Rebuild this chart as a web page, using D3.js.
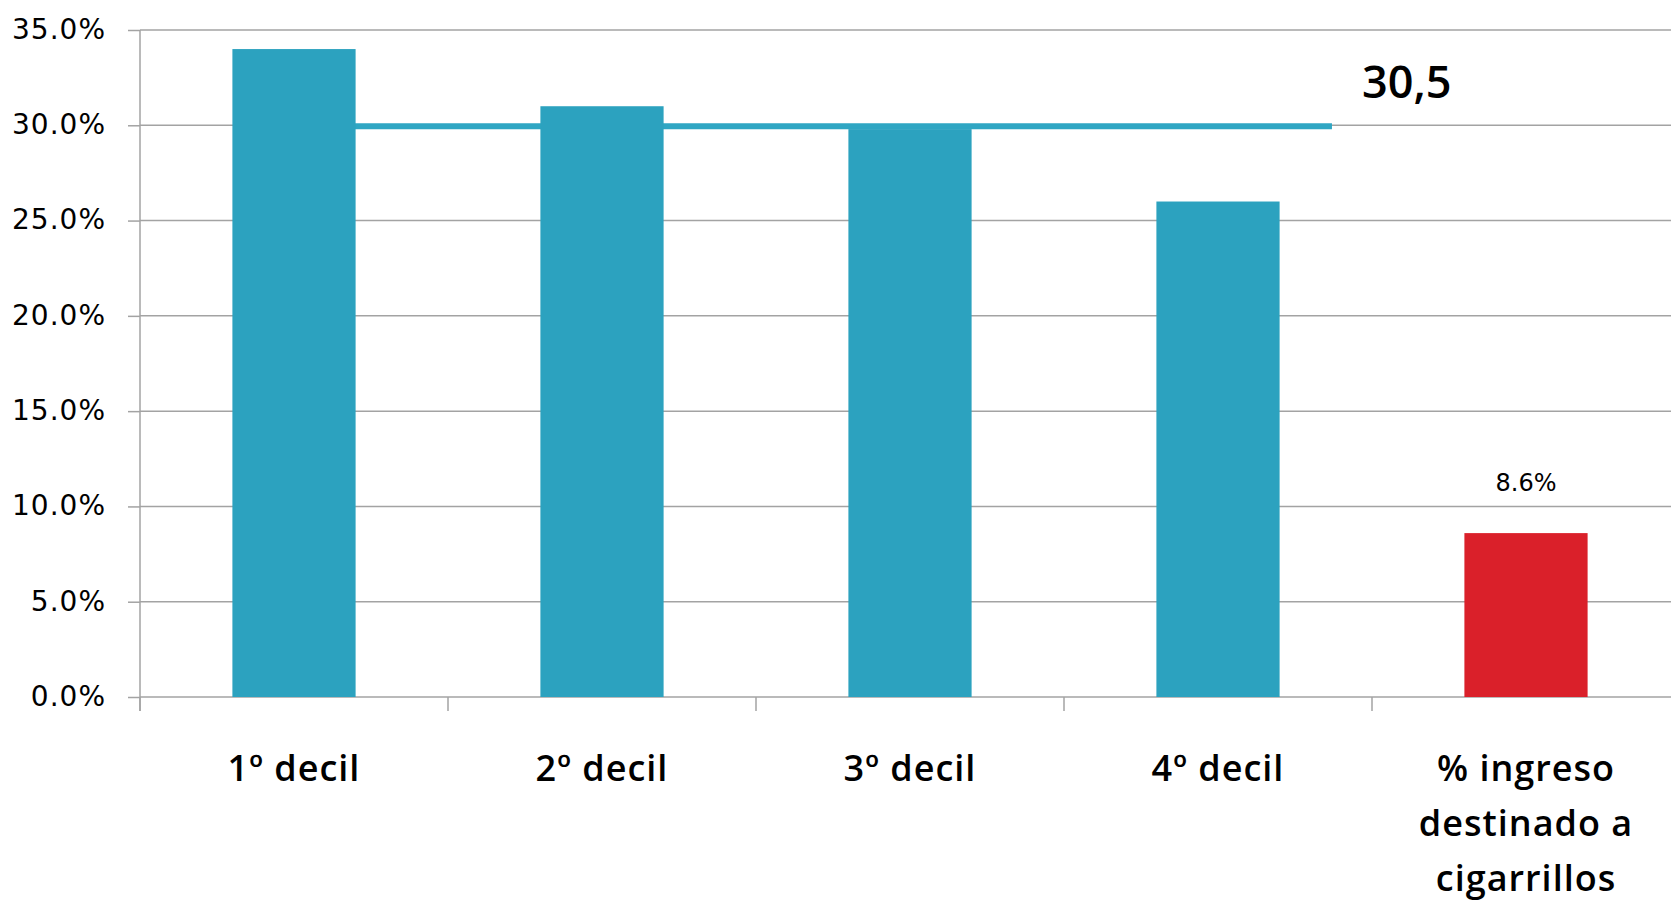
<!DOCTYPE html>
<html>
<head>
<meta charset="utf-8">
<script src="https://cdn.jsdelivr.net/npm/d3@7"></script>
<style>
  html, body { margin: 0; padding: 0; background: #ffffff; }
  svg { display: block; }
</style>
</head>
<body>
<svg id="chart" width="1671" height="904"></svg>
<script>
// ---- Data ----
const categories = ["1º decil", "2º decil", "3º decil", "4º decil", "% ingreso destinado a cigarrillos"];
const categoryLines = [["1º decil"], ["2º decil"], ["3º decil"], ["4º decil"], ["% ingreso", "destinado a", "cigarrillos"]];
const values = [34.0, 31.0, 29.8, 26.0, 8.6];
const barColors = ["#2ca2bf", "#2ca2bf", "#2ca2bf", "#2ca2bf", "#da202a"];
const valueLabels = [null, null, null, null, "8.6%"];
const yTicks = [0, 5, 10, 15, 20, 25, 30, 35];
const yTickLabels = ["0.0%", "5.0%", "10.0%", "15.0%", "20.0%", "25.0%", "30.0%", "35.0%"];
const avgValue = 29.95;
const avgLabel = "30,5";

// ---- Layout ----
const svg = d3.select("#chart");
const mLeft = 140, mTop = 30, mBottom = 697, mRight = 1680;

const x = d3.scaleBand().domain(categories).range([mLeft, mRight]).padding(0);
const y = d3.scaleLinear().domain([0, 35]).range([mBottom, mTop]);
const bw = x.bandwidth();
const barW = bw * 0.4;

const rows = categories.map((c, i) => ({ cat: c, value: values[i], color: barColors[i], label: valueLabels[i], lines: categoryLines[i] }));

// gridlines + y ticks
const yAxis = d3.axisLeft(y).tickValues(yTicks).tickFormat((d, i) => yTickLabels[i]).tickSize(12).tickPadding(22);
const gy = svg.append("g").attr("transform", `translate(${mLeft},0)`).call(yAxis);
gy.select(".domain").remove();
gy.selectAll(".tick line").attr("stroke", "#a3a3a3").attr("stroke-width", 1.5);
gy.selectAll(".tick text")
  .attr("font-family", "DejaVu Sans, sans-serif")
  .attr("font-size", 28)
  .attr("letter-spacing", 1)
  .attr("fill", "#000")
  .attr("dy", "0.3em");

svg.append("g").selectAll("line.grid").data(yTicks).join("line")
  .attr("class", "grid")
  .attr("x1", mLeft).attr("x2", 1671)
  .attr("y1", d => y(d)).attr("y2", d => y(d))
  .attr("stroke", "#a3a3a3").attr("stroke-width", 1.5);

// vertical axis line
svg.append("line")
  .attr("x1", mLeft).attr("x2", mLeft)
  .attr("y1", y(35)).attr("y2", mBottom + 14)
  .attr("stroke", "#a3a3a3").attr("stroke-width", 1.5);

// category tick marks (at band boundaries)
svg.append("g").selectAll("line.ctick").data(categories).join("line")
  .attr("x1", d => x(d)).attr("x2", d => x(d))
  .attr("y1", mBottom).attr("y2", mBottom + 14)
  .attr("stroke", "#a3a3a3").attr("stroke-width", 1.5);

// average line (drawn behind bars)
const lineStart = x(categories[0]) + bw / 2;
const lineEnd = x(categories[3]) + bw * 0.87;
svg.append("line")
  .attr("x1", lineStart).attr("x2", lineEnd)
  .attr("y1", y(avgValue)).attr("y2", y(avgValue))
  .attr("stroke", "#2fa6c3").attr("stroke-width", 6);

// bars
svg.append("g").selectAll("rect").data(rows).join("rect")
  .attr("x", d => x(d.cat) + (bw - barW) / 2)
  .attr("width", barW)
  .attr("y", d => y(d.value))
  .attr("height", d => y(0) - y(d.value))
  .attr("fill", d => d.color);

// value labels
svg.append("g").selectAll("text").data(rows.filter(d => d.label !== null)).join("text")
  .attr("x", d => x(d.cat) + bw / 2)
  .attr("y", d => y(d.value) - 42)
  .attr("text-anchor", "middle")
  .attr("font-family", "DejaVu Sans, sans-serif")
  .attr("font-size", 24)
  .attr("fill", "#000")
  .text(d => d.label);

// average label
svg.append("text")
  .attr("x", lineEnd + 30)
  .attr("y", y(avgValue) - 28)
  .attr("font-family", "Open Sans, sans-serif")
  .attr("font-weight", 600)
  .attr("font-size", 45)
  .attr("fill", "#000")
  .text(avgLabel);

// category labels
const cl = svg.append("g").selectAll("text").data(rows).join("text")
  .attr("x", d => x(d.cat) + bw / 2)
  .attr("y", mBottom + 84)
  .attr("text-anchor", "middle")
  .attr("font-family", "Open Sans, sans-serif")
  .attr("font-weight", 600)
  .attr("font-size", 36)
  .attr("letter-spacing", 1)
  .attr("fill", "#000");
cl.each(function(d) {
  d3.select(this).selectAll("tspan").data(d.lines).join("tspan")
    .attr("x", x(d.cat) + bw / 2)
    .attr("dy", (t, j) => j === 0 ? 0 : 55)
    .text(t => t);
});
</script>
</body>
</html>
